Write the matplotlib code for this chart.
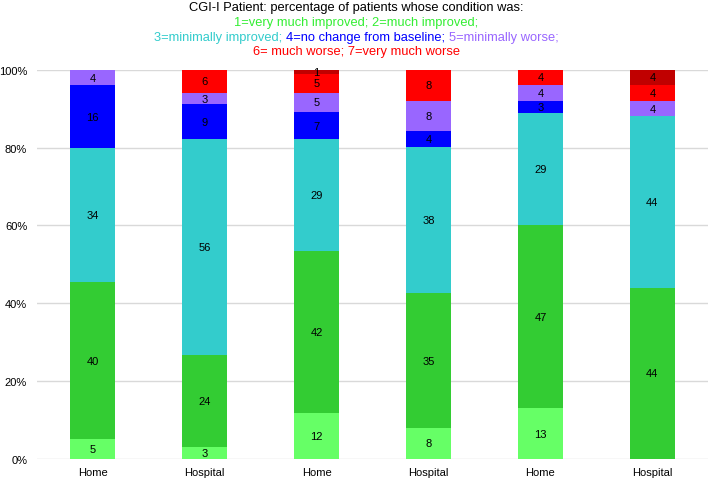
import matplotlib
matplotlib.use("Agg")
import matplotlib.pyplot as plt
import numpy as np

plt.rcParams["font.family"] = ["Liberation Sans", "DejaVu Sans"]

# bar groups and labelled percentages per CGI-I category
settings = ["Home", "Hospital", "Home", "Hospital", "Home", "Hospital"]
very_much_improved = [5, 3, 12, 8, 13, 0]
much_improved = [40, 24, 42, 35, 47, 44]
minimally_improved = [34, 56, 29, 38, 29, 44]
no_change = [16, 9, 7, 4, 3, 0]
minimally_worse = [4, 3, 5, 8, 4, 4]
much_worse = [0, 6, 5, 8, 4, 4]
very_much_worse = [0, 0, 1, 0, 0, 4]

series = [very_much_improved, much_improved, minimally_improved, no_change,
          minimally_worse, much_worse, very_much_worse]
colors = ["#66FF66", "#33CC33", "#33CCCC", "#0000FF", "#9966FF", "#FF0000", "#C00000"]

values = np.array(series, dtype=float)
shares = values / values.sum(axis=0) * 100

fig = plt.figure(figsize=(7.09, 4.81), dpi=100)
ax = fig.add_axes([0.052, 0.044, 0.947, 0.809])

x = np.arange(len(settings))
bottom = np.zeros(len(settings))
for vals, share, col in zip(values, shares, colors):
    ax.bar(x, share, 0.4, bottom=bottom, color=col, zorder=2)
    for i in range(len(settings)):
        if vals[i] > 0:
            ax.text(x[i], bottom[i] + share[i] / 2, f"{int(vals[i])}",
                    ha="center", va="center", fontsize=8, color="black", zorder=3)
    bottom += share

ax.set_xlim(-0.5, len(settings) - 0.5)
ax.set_ylim(0, 100)
ax.set_yticks(range(0, 101, 20))
ax.set_yticklabels([f"{v}%" for v in range(0, 101, 20)])
ax.set_xticks(x)
ax.set_xticklabels(settings)
ax.tick_params(axis="y", length=0, labelsize=8, pad=7)
ax.tick_params(axis="x", length=0, labelsize=8, pad=6)
ax.grid(axis="y", color="#D9D9D9", linewidth=1, zorder=0)
for s in ax.spines.values():
    s.set_visible(False)

title_lines = [
    [("CGI-I Patient: percentage of patients whose condition was:", "#000000")],
    [("1=very much improved; 2=much improved;", "#33EE33")],
    [("3=minimally improved; ", "#33CCCC"), ("4=no change from baseline; ", "#0000FF"),
     ("5=minimally worse;", "#9966FF")],
    [("6= much worse; 7=very much worse", "#FF0000")],
]
line_y = [8, 23, 37.5, 52.5]

fig.canvas.draw()
renderer = fig.canvas.get_renderer()
W, H = fig.bbox.width, fig.bbox.height
for parts, yp in zip(title_lines, line_y):
    texts = []
    for txt, col in parts:
        t = fig.text(0, 1 - yp / H, txt, color=col, fontsize=9.3, ha="left", va="center")
        texts.append(t)
    widths = [t.get_window_extent(renderer).width for t in texts]
    start = (W - sum(widths)) / 2 + 2
    for t, w in zip(texts, widths):
        t.set_x(start / W)
        start += w

fig.savefig("out.png", dpi=100)
